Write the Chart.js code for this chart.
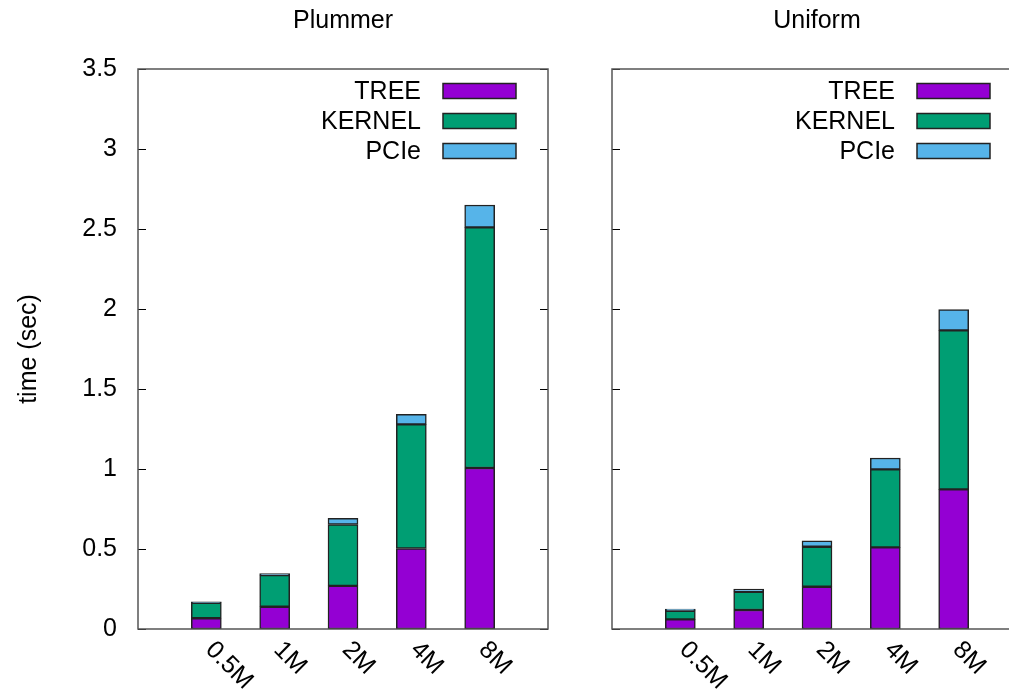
<!DOCTYPE html>
<html>
<head>
<meta charset="utf-8">
<script src="https://cdn.jsdelivr.net/npm/chart.js@4.4.0/dist/chart.umd.min.js"></script>
<style>
  html, body { margin: 0; padding: 0; background: #fff; overflow: hidden; }
  body { width: 1009px; height: 689px; position: relative; }
  canvas { position: absolute; top: 0; }
  #plummer { left: 0; }
  #uniform { left: 474px; }
</style>
</head>
<body>
<canvas id="plummer" width="580" height="689"></canvas>
<canvas id="uniform" width="580" height="689"></canvas>
<script>
const categories = ["0.5M", "1M", "2M", "4M", "8M"];
const seriesNames = ["TREE", "KERNEL", "PCIe"];
const seriesColors = ["#9400d3", "#009e73", "#56b4e9"];
const yTicks = { min: 0, max: 3.5, step: 0.5 };

// Plummer panel
const plummerTree = [0.067, 0.139, 0.27, 0.503, 1.006];
const plummerKernel = [0.097, 0.198, 0.383, 0.776, 1.504];
const plummerPcie = [0.006, 0.010, 0.038, 0.062, 0.14];

// Uniform panel
const uniformTree = [0.06, 0.119, 0.264, 0.51, 0.873];
const uniformKernel = [0.054, 0.114, 0.25, 0.488, 0.993];
const uniformPcie = [0.011, 0.017, 0.037, 0.071, 0.131];

const FONT = "'Liberation Sans', Arial, sans-serif";
Chart.defaults.font.family = FONT;
Chart.defaults.color = "#000";

// padded with an empty slot on each side, like xrange [-1:5]
const padded = (arr) => [null, ...arr, null];

// frame, inward ticks, legend and rotated x labels
const decorPlugin = {
  id: "decor",
  afterDraw(chart) {
    const ctx = chart.ctx;
    const area = chart.chartArea;
    const x = chart.scales.x;
    const y = chart.scales.y;
    ctx.save();

    // inward tick marks on both sides
    ctx.strokeStyle = "#000";
    ctx.lineWidth = 1;
    y.ticks.forEach((t) => {
      const py = Math.round(y.getPixelForValue(t.value)) + 0.5;
      ctx.beginPath();
      ctx.moveTo(area.left, py);
      ctx.lineTo(area.left + 8, py);
      ctx.moveTo(area.right, py);
      ctx.lineTo(area.right - 8, py);
      ctx.stroke();
    });

    // border box
    ctx.strokeStyle = "#555";
    ctx.lineWidth = 1.5;
    ctx.strokeRect(area.left, area.top, area.right - area.left, area.bottom - area.top);

    // legend: text right aligned, swatch to its right
    ctx.font = "25px " + FONT;
    ctx.textAlign = "right";
    ctx.textBaseline = "middle";
    chart.data.datasets.forEach((ds, i) => {
      const cy = area.top + 22 + i * 30;
      ctx.fillStyle = "#000";
      ctx.fillText(ds.label, area.right - 127, cy + 1);
      ctx.fillStyle = ds.backgroundColor;
      ctx.fillRect(area.right - 105, cy - 7.5, 73, 15);
      ctx.strokeStyle = "#222";
      ctx.lineWidth = 1.5;
      ctx.strokeRect(area.right - 105, cy - 7.5, 73, 15);
    });

    // x labels rotated 45 degrees clockwise
    ctx.textAlign = "left";
    ctx.textBaseline = "middle";
    ctx.fillStyle = "#000";
    chart.data.labels.forEach((lab, i) => {
      if (!lab) return;
      const px = x.getPixelForValue(i);
      ctx.save();
      ctx.translate(px + 3, area.bottom + 17);
      ctx.rotate(Math.PI / 4);
      ctx.fillText(lab, 0, 0);
      ctx.restore();
    });

    ctx.restore();
  },
};

function makePanel(id, title, tree, kernel, pcie, showY) {
  const values = [tree, kernel, pcie];
  return new Chart(document.getElementById(id), {
    type: "bar",
    data: {
      labels: padded(categories).map((c) => c || ""),
      datasets: seriesNames.map((name, i) => ({
        label: name,
        data: padded(values[i]),
        backgroundColor: seriesColors[i],
        borderColor: "#222",
        borderWidth: 1.5,
        borderSkipped: false,
        barThickness: 30,
      })),
    },
    options: {
      responsive: false,
      animation: false,
      events: [],
      layout: { padding: { top: 0, right: 32, bottom: 0, left: 0 } },
      plugins: {
        legend: { display: false },
        tooltip: { enabled: false },
        title: {
          display: true,
          text: title,
          fullSize: false,
          color: "#000",
          font: { size: 25, weight: "normal" },
          padding: { top: 6, bottom: 33 },
        },
      },
      scales: {
        x: {
          stacked: true,
          offset: false,
          grid: { display: false },
          border: { display: false },
          ticks: { display: false },
          afterFit(scale) { scale.height = 60; },
        },
        y: {
          stacked: true,
          min: yTicks.min,
          max: yTicks.max,
          grid: { display: false, drawTicks: false },
          border: { display: false },
          ticks: {
            display: showY,
            stepSize: yTicks.step,
            padding: 21,
            color: "#000",
            font: { size: 25 },
            callback: (v) => String(Number(v)),
          },
          title: {
            display: showY,
            text: "time (sec)",
            color: "#000",
            font: { size: 25 },
            padding: { top: 14, bottom: 0 },
          },
          afterFit(scale) { scale.width = 138; },
        },
      },
    },
    plugins: [decorPlugin],
  });
}

makePanel("plummer", "Plummer", plummerTree, plummerKernel, plummerPcie, true);
makePanel("uniform", "Uniform", uniformTree, uniformKernel, uniformPcie, false);
</script>
</body>
</html>
